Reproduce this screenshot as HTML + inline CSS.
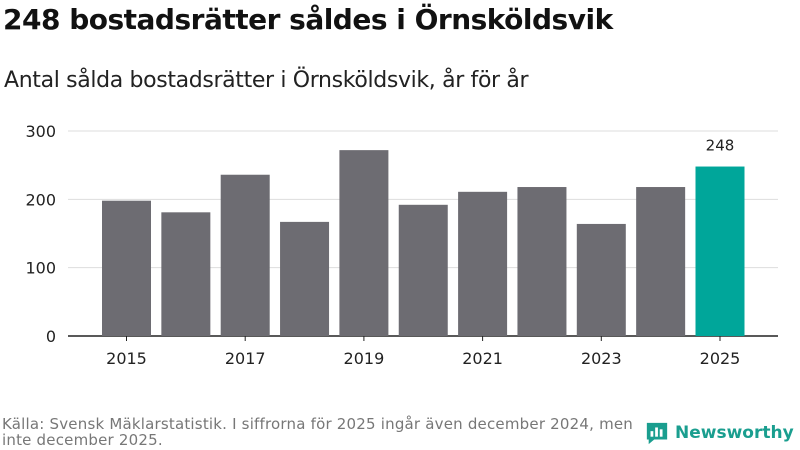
<!DOCTYPE html>
<html><head><meta charset="utf-8"><style>
body{margin:0;width:800px;height:450px;background:#fff;font-family:"Liberation Sans","DejaVu Sans",sans-serif;overflow:hidden;position:relative}
h1{position:absolute;left:3px;top:3px;margin:0;font-size:28px;font-weight:bold;color:#111;font-family:"DejaVu Sans",sans-serif;letter-spacing:-0.5px;white-space:nowrap}
h2{position:absolute;left:4px;top:68px;margin:0;font-size:22px;font-weight:normal;color:#222;font-family:"DejaVu Sans",sans-serif;letter-spacing:-0.35px;white-space:nowrap}
.src{position:absolute;left:2px;top:416px;font-size:15px;color:#777;line-height:16px;width:660px;font-family:"DejaVu Sans",sans-serif;letter-spacing:0.2px;white-space:nowrap}
.logo{position:absolute;left:645px;top:420px;display:flex;align-items:center;gap:6px;color:#1a9e8f;font-weight:bold;font-size:17px;font-family:"DejaVu Sans",sans-serif;white-space:nowrap}
</style></head><body>
<h1>248 bostadsrätter såldes i Örnsköldsvik</h1>
<h2>Antal sålda bostadsrätter i Örnsköldsvik, år för år</h2>
<svg id="chart" width="800" height="450" style="position:absolute;left:0;top:0"></svg>
<div class="src">Källa: Svensk Mäklarstatistik. I siffrorna för 2025 ingår även december 2024, men<br>inte december 2025.</div>
<div class="logo"><svg width="24" height="26" viewBox="0 0 26 26"><path d="M2 2h22v18H10l-6 5v-5H2z" fill="#1a9e8f"/><rect x="6" y="11" width="3" height="6" fill="#fff"/><rect x="11" y="7" width="3" height="10" fill="#fff"/><rect x="16" y="9" width="3" height="8" fill="#fff"/></svg><span>Newsworthy</span></div>
<script>
const categories=[2015,2016,2017,2018,2019,2020,2021,2022,2023,2024,2025];
const values=[198,181,236,167,272,192,211,218,164,218,248];
const yTicks=[0,100,200,300];
const xLabels=[2015,2017,2019,2021,2023,2025];
const NS="http://www.w3.org/2000/svg";
const svg=document.getElementById('chart');
const y0=336,y1=131,yMax=300;
const y=v=>y0-(v/yMax)*(y0-y1);
const xStart=126.5,step=59.35,bw=49;
const x=i=>xStart+i*step;
function mk(t,a){const e=document.createElementNS(NS,t);for(const k in a)e.setAttribute(k,a[k]);svg.appendChild(e);return e;}
yTicks.forEach(t=>{
  const l=mk('line',{x1:68,x2:778,y1:y(t),y2:y(t),stroke:t===0?'#222':'#ddd','stroke-width':t===0?1.5:1});
  
  
  const tx=mk('text',{x:56,y:y(t)+6,'text-anchor':'end','font-size':16,fill:'#222','font-family':'DejaVu Sans,sans-serif'});
  tx.textContent=t;
  
  
});
categories.forEach((c,i)=>{
  const last=i===categories.length-1;
  const r=mk('rect',{x:x(i)-bw/2,y:y(values[i]),width:bw,height:y0-y(values[i]),fill:last?'#00a69a':'#6d6c72'});
  
  
  if(last){
    const t=mk('text',{x:x(i),y:y(values[i])-16,'text-anchor':'middle','font-size':15,fill:'#222','font-family':'DejaVu Sans,sans-serif'});
    t.textContent=values[i];
    
    
  }
  if(xLabels.includes(c)){
    const tk=mk('line',{x1:x(i),x2:x(i),y1:y0,y2:y0+5,stroke:'#222'});
    
    
    const t=mk('text',{x:x(i),y:364,'text-anchor':'middle','font-size':16,fill:'#222','font-family':'DejaVu Sans,sans-serif'});
    t.textContent=c;
    
    
  }
});
</script>
</body></html>
